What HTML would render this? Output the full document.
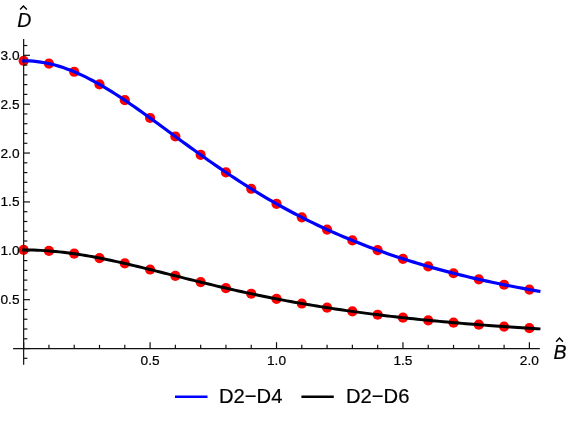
<!DOCTYPE html>
<html><head><meta charset="utf-8"><title>plot</title>
<style>
html,body{margin:0;padding:0;background:#fff;}
body{width:585px;height:421px;overflow:hidden;}
svg{display:block;will-change:transform;}
text{font-family:"Liberation Sans",sans-serif;fill:#000;stroke:#000;stroke-width:0.2px;}
.tl{font-size:13.7px;}
.lg{font-size:20.2px;}
.ax{font-size:19.5px;font-style:italic;}
</style></head><body>
<svg width="585" height="421" viewBox="0 0 585 421">
<rect width="585" height="421" fill="#fff"/>
<g fill="#f00">
<circle cx="23.65" cy="60.77" r="5.1"/>
<circle cx="48.94" cy="63.61" r="5.1"/>
<circle cx="74.22" cy="71.77" r="5.1"/>
<circle cx="99.51" cy="84.39" r="5.1"/>
<circle cx="124.80" cy="100.22" r="5.1"/>
<circle cx="150.09" cy="117.98" r="5.1"/>
<circle cx="175.37" cy="136.48" r="5.1"/>
<circle cx="200.66" cy="154.83" r="5.1"/>
<circle cx="225.95" cy="172.39" r="5.1"/>
<circle cx="251.23" cy="188.77" r="5.1"/>
<circle cx="276.52" cy="203.78" r="5.1"/>
<circle cx="301.81" cy="217.37" r="5.1"/>
<circle cx="327.09" cy="229.57" r="5.1"/>
<circle cx="352.38" cy="240.46" r="5.1"/>
<circle cx="377.67" cy="250.16" r="5.1"/>
<circle cx="402.95" cy="258.79" r="5.1"/>
<circle cx="428.24" cy="266.45" r="5.1"/>
<circle cx="453.53" cy="273.26" r="5.1"/>
<circle cx="478.82" cy="279.33" r="5.1"/>
<circle cx="504.10" cy="284.75" r="5.1"/>
<circle cx="529.39" cy="289.59" r="5.1"/>
<circle cx="23.65" cy="249.95" r="5.1"/>
<circle cx="48.94" cy="250.92" r="5.1"/>
<circle cx="74.22" cy="253.71" r="5.1"/>
<circle cx="99.51" cy="258.03" r="5.1"/>
<circle cx="124.80" cy="263.44" r="5.1"/>
<circle cx="150.09" cy="269.52" r="5.1"/>
<circle cx="175.37" cy="275.85" r="5.1"/>
<circle cx="200.66" cy="282.12" r="5.1"/>
<circle cx="225.95" cy="288.13" r="5.1"/>
<circle cx="251.23" cy="293.73" r="5.1"/>
<circle cx="276.52" cy="298.87" r="5.1"/>
<circle cx="301.81" cy="303.52" r="5.1"/>
<circle cx="327.09" cy="307.69" r="5.1"/>
<circle cx="352.38" cy="311.42" r="5.1"/>
<circle cx="377.67" cy="314.73" r="5.1"/>
<circle cx="402.95" cy="317.68" r="5.1"/>
<circle cx="428.24" cy="320.30" r="5.1"/>
<circle cx="453.53" cy="322.64" r="5.1"/>
<circle cx="478.82" cy="324.71" r="5.1"/>
<circle cx="504.10" cy="326.56" r="5.1"/>
<circle cx="529.39" cy="328.22" r="5.1"/>
</g>
<path d="M22.13,60.78 L25.86,60.80 L29.59,60.93 L33.32,61.19 L37.05,61.57 L40.78,62.08 L44.51,62.71 L48.23,63.45 L51.96,64.32 L55.69,65.29 L59.42,66.39 L63.15,67.59 L66.88,68.90 L70.61,70.31 L74.34,71.82 L78.07,73.43 L81.79,75.14 L85.52,76.93 L89.25,78.81 L92.98,80.77 L96.71,82.81 L100.44,84.92 L104.17,87.10 L107.90,89.35 L111.62,91.66 L115.35,94.02 L119.08,96.43 L122.81,98.89 L126.54,101.40 L130.27,103.95 L134.00,106.53 L137.73,109.14 L141.46,111.78 L145.18,114.44 L148.91,117.13 L152.64,119.83 L156.37,122.55 L160.10,125.27 L163.83,128.01 L167.56,130.74 L171.29,133.48 L175.01,136.22 L178.74,138.96 L182.47,141.68 L186.20,144.40 L189.93,147.11 L193.66,149.81 L197.39,152.49 L201.12,155.16 L204.85,157.81 L208.57,160.44 L212.30,163.04 L216.03,165.63 L219.76,168.19 L223.49,170.73 L227.22,173.24 L230.95,175.73 L234.68,178.19 L238.41,180.62 L242.13,183.03 L245.86,185.40 L249.59,187.75 L253.32,190.06 L257.05,192.35 L260.78,194.60 L264.51,196.83 L268.24,199.02 L271.96,201.18 L275.69,203.31 L279.42,205.41 L283.15,207.48 L286.88,209.52 L290.61,211.53 L294.34,213.50 L298.07,215.45 L301.80,217.37 L305.52,219.25 L309.25,221.10 L312.98,222.93 L316.71,224.72 L320.44,226.49 L324.17,228.23 L327.90,229.94 L331.63,231.62 L335.35,233.27 L339.08,234.89 L342.81,236.49 L346.54,238.06 L350.27,239.60 L354.00,241.12 L357.73,242.61 L361.46,244.08 L365.19,245.52 L368.91,246.93 L372.64,248.33 L376.37,249.69 L380.10,251.04 L383.83,252.36 L387.56,253.66 L391.29,254.93 L395.02,256.19 L398.74,257.42 L402.47,258.63 L406.20,259.82 L409.93,260.99 L413.66,262.14 L417.39,263.27 L421.12,264.38 L424.85,265.47 L428.58,266.54 L432.30,267.60 L436.03,268.63 L439.76,269.65 L443.49,270.65 L447.22,271.64 L450.95,272.60 L454.68,273.56 L458.41,274.49 L462.13,275.41 L465.86,276.31 L469.59,277.20 L473.32,278.07 L477.05,278.93 L480.78,279.78 L484.51,280.61 L488.24,281.42 L491.97,282.23 L495.69,283.02 L499.42,283.79 L503.15,284.56 L506.88,285.31 L510.61,286.05 L514.34,286.77 L518.07,287.49 L521.80,288.19 L525.53,288.88 L529.25,289.56 L532.98,290.23 L536.71,290.89 L540.44,291.54" fill="none" stroke="#00f" stroke-width="3.2"/>
<path d="M22.13,249.95 L25.86,249.96 L29.59,250.00 L33.32,250.09 L37.05,250.22 L40.78,250.40 L44.51,250.61 L48.23,250.87 L51.96,251.16 L55.69,251.50 L59.42,251.87 L63.15,252.28 L66.88,252.73 L70.61,253.21 L74.34,253.73 L78.07,254.28 L81.79,254.86 L85.52,255.48 L89.25,256.12 L92.98,256.79 L96.71,257.49 L100.44,258.21 L104.17,258.96 L107.90,259.72 L111.62,260.51 L115.35,261.32 L119.08,262.15 L122.81,262.99 L126.54,263.85 L130.27,264.72 L134.00,265.60 L137.73,266.49 L141.46,267.40 L145.18,268.31 L148.91,269.23 L152.64,270.15 L156.37,271.08 L160.10,272.01 L163.83,272.95 L167.56,273.88 L171.29,274.82 L175.01,275.76 L178.74,276.69 L182.47,277.63 L186.20,278.56 L189.93,279.48 L193.66,280.41 L197.39,281.32 L201.12,282.24 L204.85,283.14 L208.57,284.04 L212.30,284.93 L216.03,285.82 L219.76,286.69 L223.49,287.56 L227.22,288.42 L230.95,289.27 L234.68,290.11 L238.41,290.95 L242.13,291.77 L245.86,292.58 L249.59,293.38 L253.32,294.18 L257.05,294.96 L260.78,295.73 L264.51,296.49 L268.24,297.24 L271.96,297.98 L275.69,298.71 L279.42,299.43 L283.15,300.13 L286.88,300.83 L290.61,301.52 L294.34,302.19 L298.07,302.86 L301.80,303.51 L305.52,304.16 L309.25,304.79 L312.98,305.42 L316.71,306.03 L320.44,306.64 L324.17,307.23 L327.90,307.82 L331.63,308.39 L335.35,308.95 L339.08,309.51 L342.81,310.06 L346.54,310.59 L350.27,311.12 L354.00,311.64 L357.73,312.15 L361.46,312.65 L365.19,313.15 L368.91,313.63 L372.64,314.11 L376.37,314.57 L380.10,315.03 L383.83,315.49 L387.56,315.93 L391.29,316.37 L395.02,316.79 L398.74,317.22 L402.47,317.63 L406.20,318.04 L409.93,318.44 L413.66,318.83 L417.39,319.22 L421.12,319.60 L424.85,319.97 L428.58,320.34 L432.30,320.70 L436.03,321.05 L439.76,321.40 L443.49,321.74 L447.22,322.08 L450.95,322.41 L454.68,322.74 L458.41,323.06 L462.13,323.37 L465.86,323.68 L469.59,323.98 L473.32,324.28 L477.05,324.58 L480.78,324.86 L484.51,325.15 L488.24,325.43 L491.97,325.70 L495.69,325.97 L499.42,326.24 L503.15,326.50 L506.88,326.76 L510.61,327.01 L514.34,327.26 L518.07,327.50 L521.80,327.74 L525.53,327.98 L529.25,328.21 L532.98,328.44 L536.71,328.67 L540.44,328.89" fill="none" stroke="#000" stroke-width="2.95"/>
<g stroke="#111" stroke-width="1.2" fill="none">
<line x1="13.1" y1="348.55" x2="539.8" y2="348.55"/>
<line x1="23.65" y1="39.1" x2="23.65" y2="364.8"/>
<line x1="23.65" y1="348.55" x2="23.65" y2="342.25"/>
<line x1="48.94" y1="348.55" x2="48.94" y2="344.85"/>
<line x1="74.22" y1="348.55" x2="74.22" y2="344.85"/>
<line x1="99.51" y1="348.55" x2="99.51" y2="344.85"/>
<line x1="124.80" y1="348.55" x2="124.80" y2="344.85"/>
<line x1="150.09" y1="348.55" x2="150.09" y2="342.25"/>
<line x1="175.37" y1="348.55" x2="175.37" y2="344.85"/>
<line x1="200.66" y1="348.55" x2="200.66" y2="344.85"/>
<line x1="225.95" y1="348.55" x2="225.95" y2="344.85"/>
<line x1="251.23" y1="348.55" x2="251.23" y2="344.85"/>
<line x1="276.52" y1="348.55" x2="276.52" y2="342.25"/>
<line x1="301.81" y1="348.55" x2="301.81" y2="344.85"/>
<line x1="327.09" y1="348.55" x2="327.09" y2="344.85"/>
<line x1="352.38" y1="348.55" x2="352.38" y2="344.85"/>
<line x1="377.67" y1="348.55" x2="377.67" y2="344.85"/>
<line x1="402.95" y1="348.55" x2="402.95" y2="342.25"/>
<line x1="428.24" y1="348.55" x2="428.24" y2="344.85"/>
<line x1="453.53" y1="348.55" x2="453.53" y2="344.85"/>
<line x1="478.82" y1="348.55" x2="478.82" y2="344.85"/>
<line x1="504.10" y1="348.55" x2="504.10" y2="344.85"/>
<line x1="529.39" y1="348.55" x2="529.39" y2="342.25"/>
<line x1="23.65" y1="358.32" x2="27.35" y2="358.32"/>
<line x1="23.65" y1="348.55" x2="29.95" y2="348.55"/>
<line x1="23.65" y1="338.78" x2="27.35" y2="338.78"/>
<line x1="23.65" y1="329.00" x2="27.35" y2="329.00"/>
<line x1="23.65" y1="319.23" x2="27.35" y2="319.23"/>
<line x1="23.65" y1="309.45" x2="27.35" y2="309.45"/>
<line x1="23.65" y1="299.68" x2="29.95" y2="299.68"/>
<line x1="23.65" y1="289.90" x2="27.35" y2="289.90"/>
<line x1="23.65" y1="280.12" x2="27.35" y2="280.12"/>
<line x1="23.65" y1="270.35" x2="27.35" y2="270.35"/>
<line x1="23.65" y1="260.57" x2="27.35" y2="260.57"/>
<line x1="23.65" y1="250.80" x2="29.95" y2="250.80"/>
<line x1="23.65" y1="241.03" x2="27.35" y2="241.03"/>
<line x1="23.65" y1="231.25" x2="27.35" y2="231.25"/>
<line x1="23.65" y1="221.48" x2="27.35" y2="221.48"/>
<line x1="23.65" y1="211.70" x2="27.35" y2="211.70"/>
<line x1="23.65" y1="201.93" x2="29.95" y2="201.93"/>
<line x1="23.65" y1="192.15" x2="27.35" y2="192.15"/>
<line x1="23.65" y1="182.38" x2="27.35" y2="182.38"/>
<line x1="23.65" y1="172.60" x2="27.35" y2="172.60"/>
<line x1="23.65" y1="162.83" x2="27.35" y2="162.83"/>
<line x1="23.65" y1="153.05" x2="29.95" y2="153.05"/>
<line x1="23.65" y1="143.28" x2="27.35" y2="143.28"/>
<line x1="23.65" y1="133.50" x2="27.35" y2="133.50"/>
<line x1="23.65" y1="123.73" x2="27.35" y2="123.73"/>
<line x1="23.65" y1="113.95" x2="27.35" y2="113.95"/>
<line x1="23.65" y1="104.18" x2="29.95" y2="104.18"/>
<line x1="23.65" y1="94.40" x2="27.35" y2="94.40"/>
<line x1="23.65" y1="84.62" x2="27.35" y2="84.62"/>
<line x1="23.65" y1="74.85" x2="27.35" y2="74.85"/>
<line x1="23.65" y1="65.08" x2="27.35" y2="65.08"/>
<line x1="23.65" y1="55.30" x2="29.95" y2="55.30"/>
<line x1="23.65" y1="45.52" x2="27.35" y2="45.52"/>
</g>
<text class="tl" x="150.09" y="364.5" text-anchor="middle">0.5</text>
<text class="tl" x="276.52" y="364.5" text-anchor="middle">1.0</text>
<text class="tl" x="402.95" y="364.5" text-anchor="middle">1.5</text>
<text class="tl" x="529.39" y="364.5" text-anchor="middle">2.0</text>
<text class="tl" x="19.5" y="304.18" text-anchor="end">0.5</text>
<text class="tl" x="19.5" y="255.30" text-anchor="end">1.0</text>
<text class="tl" x="19.5" y="206.43" text-anchor="end">1.5</text>
<text class="tl" x="19.5" y="157.55" text-anchor="end">2.0</text>
<text class="tl" x="19.5" y="108.68" text-anchor="end">2.5</text>
<text class="tl" x="19.5" y="59.80" text-anchor="end">3.0</text>
<text class="ax" x="17.2" y="26.8">D</text>
<path d="M20.1,9.5 L23.4,6.0 L26.9,9.5" fill="none" stroke="#000" stroke-width="1.4"/>
<text class="ax" x="553.4" y="359.2">B</text>
<path d="M556.1,341.7 L559.5,338.0 L562.9,341.7" fill="none" stroke="#000" stroke-width="1.4"/>
<line x1="175" y1="396.8" x2="207.5" y2="396.8" stroke="#00f" stroke-width="2.5"/>
<text class="lg" x="219" y="403.3">D2−D4</text>
<line x1="301.4" y1="396.8" x2="333.8" y2="396.8" stroke="#000" stroke-width="2.5"/>
<text class="lg" x="346" y="403.3">D2−D6</text>
</svg></body></html>
